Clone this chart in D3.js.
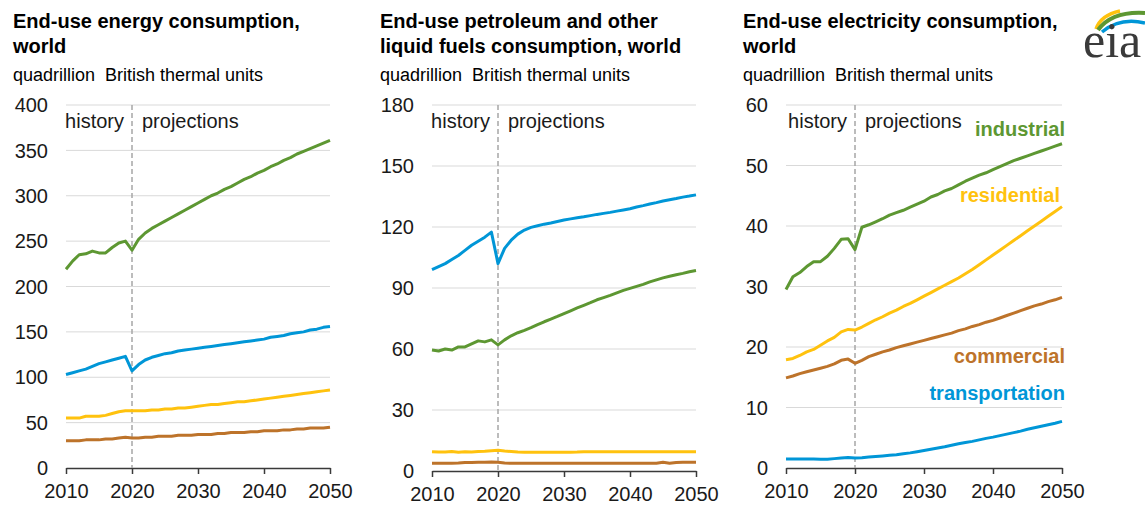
<!DOCTYPE html>
<html>
<head>
<meta charset="utf-8">
<script src="https://cdn.jsdelivr.net/npm/d3@7"></script>
<style>
  html, body { margin: 0; padding: 0; background: #fff; }
  svg { display: block; font-family: "Liberation Sans", Arial, sans-serif; }
</style>
</head>
<body>
<svg id="chart" width="1145" height="506"></svg>
<script>
// ---------- data ----------
const years = d3.range(2010, 2051);
const xTicks = [2010, 2020, 2030, 2040, 2050];

// Panel 1: End-use energy consumption, world
const energyIndustrial = [219,228,235,236,239,237,237,243,248,250,240,252,259,264,268,272,276,280,284,288,292,296,300,303,307,310,314,318,321,325,328,332,335,339,342,346,349,352,355,358,361];
const energyTransportation = [103,105,107,109,112,115,117,119,121,123,107,114,119,122,124,126,127,129,130,131,132,133,134,135,136,137,138,139,140,141,142,144,145,146,148,149,150,152,153,155,156];
const energyResidential = [55,55,55,57,57,57,58,60,62,63,63,63,63,64,64,65,65,66,66,67,68,69,70,70,71,72,73,73,74,75,76,77,78,79,80,81,82,83,84,85,86];
const energyCommercial = [30,30,30,31,31,31,32,32,33,34,33,33,34,34,35,35,35,36,36,36,37,37,37,38,38,39,39,39,40,40,41,41,41,42,42,43,43,44,44,44,45];
const energyTicks = [0,50,100,150,200,250,300,350,400];

// Panel 2: End-use petroleum and other liquid fuels consumption, world
const liquidsTransportation = [99,100.5,102,104,106,108.5,111,113,115,117.5,102,109.5,113.5,116.5,118.5,119.8,120.6,121.4,122,122.7,123.4,124,124.5,125,125.6,126.2,126.7,127.2,127.8,128.4,129,129.8,130.5,131.3,132,132.8,133.4,134,134.7,135.2,135.8];
const liquidsIndustrial = [59.5,59,60,59.5,61,61,62.5,64,63.5,64.5,62,64.5,66.5,68,69.2,70.5,72,73.4,74.7,76,77.4,78.8,80.2,81.5,82.8,84.2,85.3,86.4,87.6,88.8,89.8,90.8,91.8,93,94,95,95.8,96.5,97.2,98,98.6];
const liquidsResidential = [9.5,9.3,9.3,9.6,9.2,9.5,9.3,9.6,9.7,10,10.2,9.8,9.6,9.3,9.2,9.2,9.2,9.2,9.2,9.2,9.2,9.2,9.3,9.5,9.5,9.5,9.5,9.5,9.5,9.5,9.5,9.5,9.5,9.5,9.5,9.5,9.5,9.5,9.5,9.5,9.5];
const liquidsCommercial = [3.8,3.8,3.8,3.8,3.9,4.2,4.2,4.3,4.3,4.4,4.3,3.9,3.8,3.8,3.8,3.8,3.8,3.8,3.8,3.8,3.8,3.8,3.8,3.8,3.8,3.8,3.8,3.8,3.8,3.8,3.8,3.8,3.8,3.8,3.8,4.3,3.8,4.2,4.3,4.3,4.3];
const liquidsTicks = [0,30,60,90,120,150,180];

// Panel 3: End-use electricity consumption, world
const elecIndustrial = [29.5,31.6,32.3,33.3,34.1,34.1,35,36.3,37.8,37.9,36.1,39.8,40.2,40.7,41.2,41.8,42.2,42.6,43.1,43.6,44.1,44.8,45.2,45.8,46.2,46.8,47.4,47.9,48.4,48.8,49.3,49.8,50.3,50.8,51.2,51.6,52,52.4,52.8,53.2,53.6];
const elecResidential = [17.9,18.1,18.6,19.2,19.6,20.3,21.0,21.6,22.5,22.9,22.8,23.3,23.9,24.5,25.0,25.6,26.1,26.7,27.2,27.8,28.4,29,29.6,30.2,30.8,31.4,32.1,32.8,33.6,34.4,35.2,36,36.8,37.6,38.4,39.2,40,40.8,41.6,42.4,43.2];
const elecCommercial = [14.9,15.2,15.6,15.9,16.2,16.5,16.8,17.2,17.8,18,17.3,17.8,18.4,18.8,19.2,19.5,19.9,20.2,20.5,20.8,21.1,21.4,21.7,22,22.3,22.7,23,23.4,23.7,24.1,24.4,24.8,25.2,25.6,26,26.4,26.8,27.1,27.5,27.8,28.2];
const elecTransportation = [1.5,1.5,1.5,1.5,1.5,1.45,1.45,1.55,1.65,1.75,1.65,1.7,1.8,1.9,2.0,2.1,2.2,2.35,2.5,2.7,2.9,3.1,3.3,3.5,3.75,4.0,4.2,4.4,4.65,4.9,5.1,5.35,5.6,5.85,6.1,6.4,6.65,6.9,7.15,7.4,7.7];
const elecTicks = [0,10,20,30,40,50,60];

const sectorLabels = ["industrial", "residential", "commercial", "transportation"];

// ---------- styles ----------
const COLORS = {
  industrial: "#5d9732",
  residential: "#ffc20e",
  commercial: "#bd732a",
  transportation: "#0096d7"
};

const svg = d3.select("#chart");

const panels = [
  {
    title: ["End-use energy consumption,", "world"], tx: 13,
    left: 66, right: 330, top: 105, bottom: 468, labelRight: 48,
    ticks: energyTicks,
    series: [
      ["commercial", energyCommercial],
      ["residential", energyResidential],
      ["transportation", energyTransportation],
      ["industrial", energyIndustrial]
    ]
  },
  {
    title: ["End-use petroleum and other", "liquid fuels consumption, world"], tx: 380,
    left: 432, right: 696, top: 105, bottom: 471, labelRight: 414,
    ticks: liquidsTicks,
    series: [
      ["commercial", liquidsCommercial],
      ["residential", liquidsResidential],
      ["industrial", liquidsIndustrial],
      ["transportation", liquidsTransportation]
    ]
  },
  {
    title: ["End-use electricity consumption,", "world"], tx: 743,
    left: 786, right: 1062, top: 105, bottom: 468, labelRight: 768,
    ticks: elecTicks,
    series: [
      ["transportation", elecTransportation],
      ["commercial", elecCommercial],
      ["residential", elecResidential],
      ["industrial", elecIndustrial]
    ],
    labels: [
      ["industrial", 1065, 136],
      ["residential", 1060, 202],
      ["commercial", 1065, 363],
      ["transportation", 1065, 400]
    ]
  }
];

panels.forEach(p => {
  const g = svg.append("g");
  const x = d3.scaleLinear().domain([2010, 2050]).range([p.left, p.right]);
  const yMax = p.ticks[p.ticks.length - 1];
  const y = d3.scaleLinear().domain([0, yMax]).range([p.bottom, p.top]);

  // titles
  p.title.forEach((t, i) => {
    g.append("text").attr("x", p.tx).attr("y", 28 + i * 25)
      .attr("font-size", 20).attr("font-weight", "bold").attr("fill", "#000")
      .text(t);
  });
  g.append("text").attr("x", p.tx).attr("y", 81)
    .attr("font-size", 18).attr("fill", "#000")
    .attr("xml:space", "preserve")
    .text("quadrillion  British thermal units");

  // gridlines
  g.append("g").selectAll("line").data(p.ticks.filter(d => d > 0)).join("line")
    .attr("x1", p.left).attr("x2", p.right)
    .attr("y1", d => y(d)).attr("y2", d => y(d))
    .attr("stroke", "#d9d9d9").attr("stroke-width", 1);

  // y labels
  g.append("g").selectAll("text").data(p.ticks).join("text")
    .attr("x", p.labelRight).attr("y", d => y(d)).attr("dy", "0.36em")
    .attr("text-anchor", "end").attr("font-size", 20).attr("fill", "#1a1a1a")
    .text(d => d);

  // x axis
  const xAxis = d3.axisBottom(x).tickValues(xTicks).tickFormat(d3.format("d"))
    .tickSize(6).tickSizeOuter(0);
  const ax = g.append("g").attr("transform", `translate(0,${p.bottom})`).call(xAxis);
  ax.select(".domain").attr("stroke", "#3a3a3a").attr("stroke-width", 1.5);
  ax.selectAll(".tick line").attr("stroke", "#3a3a3a").attr("stroke-width", 1.5);
  ax.selectAll(".tick text").attr("font-size", 20).attr("fill", "#1a1a1a")
    .attr("font-family", "Liberation Sans, Arial, sans-serif")
    .attr("y", 16).attr("dy", "0.71em");

  // divider
  const xd = x(2020);
  g.append("line").attr("x1", xd).attr("x2", xd).attr("y1", p.top).attr("y2", p.bottom)
    .attr("stroke", "#a6a6a6").attr("stroke-width", 1.5).attr("stroke-dasharray", "5,3");
  g.append("text").attr("x", xd - 8).attr("y", 128).attr("text-anchor", "end")
    .attr("font-size", 20).attr("fill", "#1a1a1a").text("history");
  g.append("text").attr("x", xd + 10).attr("y", 128)
    .attr("font-size", 20).attr("fill", "#1a1a1a").text("projections");

  // lines
  const line = d3.line().x((d, i) => x(years[i])).y(d => y(d));
  p.series.forEach(([name, vals]) => {
    g.append("path").datum(vals).attr("d", line)
      .attr("fill", "none").attr("stroke", COLORS[name]).attr("stroke-width", 3)
      .attr("stroke-linejoin", "round");
  });

  // direct labels
  if (p.labels) {
    p.labels.forEach(([name, lx, ly]) => {
      g.append("text").attr("x", lx).attr("y", ly).attr("text-anchor", "end")
        .attr("font-size", 20).attr("font-weight", "bold").attr("fill", COLORS[name])
        .text(name);
    });
  }
});

// EIA logo
const logo = svg.append("g");
logo.append("path").attr("d", "M1096,29 Q1101,15 1120,11")
  .attr("fill", "none").attr("stroke", "#ffc20e").attr("stroke-width", 3.5);
logo.append("path").attr("d", "M1098,30 Q1112,11 1145,13")
  .attr("fill", "none").attr("stroke", "#5d9732").attr("stroke-width", 4);
logo.append("path").attr("d", "M1102,32 Q1120,17 1145,23")
  .attr("fill", "none").attr("stroke", "#0096d7").attr("stroke-width", 3.5);
logo.append("text").attr("x", 1083).attr("y", 57)
  .attr("font-family", "Liberation Serif, Times New Roman, serif")
  .attr("font-size", 50).attr("fill", "#3a3a3a").text("eia");
</script>
</body>
</html>
